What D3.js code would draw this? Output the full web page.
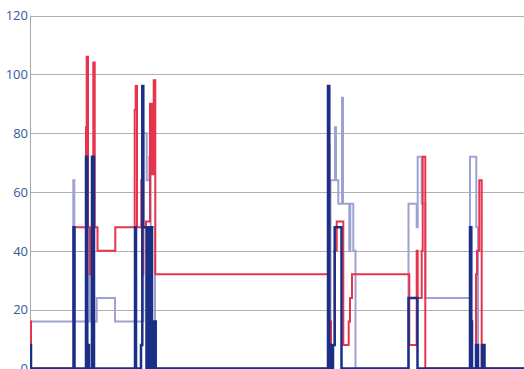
<!DOCTYPE html>
<html>
<head>
<meta charset="utf-8">
<script src="https://cdn.jsdelivr.net/npm/d3@7"></script>
<style>
  html, body { margin: 0; padding: 0; background: #ffffff; }
  svg { display: block; }
</style>
</head>
<body>
<svg id="chart" width="524" height="369"></svg>
<script>
// ---- data (step series: breakpoint times and values) ----
const yTicks = [0, 20, 40, 60, 80, 100, 120];

const lavenderT = [0, 43.3, 44.3, 59.7, 60.7, 66.7, 85, 113.3, 116.7, 119.3, 120.7, 125, 126,
  300.5, 305, 306, 308.3, 312, 313, 319.3, 320.3, 323.3, 325.5,
  378.5, 386.7, 387.7, 391.7, 395.3, 440, 446.3, 448, 494];
const lavenderV = [16, 64, 16, 32, 16, 24, 16, 80, 64, 72, 48, 16, 0,
  64, 82, 64, 56, 92, 56, 40, 56, 40, 0,
  56, 48, 72, 56, 24, 72, 48, 0, 0];

const redT = [0, 1, 44, 56, 56.7, 58, 59.7, 60.7, 63.3, 64.7, 67.5, 85.3, 104.7, 105.7, 107,
  111.3, 112.3, 113.3, 116, 120, 121.7, 123.7, 125.3,
  298, 299.3, 301, 304.7, 306.7, 313.3, 318.7, 320, 322,
  379.3, 386.7, 387.7, 391.7, 392.7, 395.3, 446, 447, 449.3, 451.7, 494];
const redV = [16, 0, 48, 82, 106, 48, 32, 48, 104, 48, 40, 48, 88, 96, 48,
  64, 32, 48, 50, 90, 66, 98, 32,
  76, 16, 8, 40, 50, 8, 16, 24, 32,
  8, 40, 24, 40, 72, 0, 32, 40, 64, 0, 0];

const navyT = [0, 1, 43.5, 44.5, 56, 57.3, 58, 59, 62, 64, 105, 106, 111, 112.3, 113.3,
  116.5, 117, 119.3, 120, 122, 124.3, 125.7,
  298, 299.3, 299.8, 301, 303, 304.7, 311.5,
  378.5, 387.5, 440, 441.3, 442, 446, 448, 452, 454.5, 494];
const navyV = [8, 0, 48, 0, 72, 0, 8, 0, 72, 0, 48, 0, 8, 96, 48,
  0, 48, 0, 48, 0, 16, 0,
  96, 0, 8, 0, 8, 48, 0,
  24, 0, 48, 16, 0, 8, 0, 8, 0, 0];

const seriesList = [
  { t: lavenderT, v: lavenderV, color: "#9ea2d2", width: 2 },
  { t: redT, v: redV, color: "#e8334c", width: 2 },
  { t: navyT, v: navyV, color: "#1c2f86", width: 2.5 }
];

// ---- layout ----
const W = 524, H = 369;
const mLeft = 30, mRight = 524, mTop = 15.5, mBottom = 368.5;

const svg = d3.select("#chart");
const x = d3.scaleLinear().domain([0, 494]).range([mLeft, mRight]);
const y = d3.scaleLinear().domain([0, 120]).range([mBottom, mTop]);

// gridlines
svg.append("g")
  .selectAll("line")
  .data(yTicks.filter(d => d > 0))
  .join("line")
  .attr("x1", mLeft)
  .attr("x2", mRight)
  .attr("y1", d => Math.round(y(d)) + 0.5)
  .attr("y2", d => Math.round(y(d)) + 0.5)
  .attr("stroke", "#b0b0b0")
  .attr("stroke-width", 1);

// y axis line
svg.append("line")
  .attr("x1", mLeft + 0.5).attr("x2", mLeft + 0.5)
  .attr("y1", mTop).attr("y2", H)
  .attr("stroke", "#a8a8a8").attr("stroke-width", 1);

// tick labels
svg.append("g")
  .selectAll("text")
  .data(yTicks)
  .join("text")
  .attr("x", mLeft - 2)
  .attr("y", d => y(d))
  .attr("dy", "0.36em")
  .attr("text-anchor", "end")
  .attr("font-family", "'Open Sans', 'Noto Sans', sans-serif")
  .attr("font-size", 13)
  .attr("fill", "#2d5c9c")
  .text(d => d);

// clip to chart area
svg.append("clipPath").attr("id", "clip")
  .append("rect").attr("x", mLeft).attr("y", 0).attr("width", mRight - mLeft).attr("height", H);

const line = d3.line()
  .x(d => x(d[0]))
  .y(d => y(d[1]))
  .curve(d3.curveStepAfter);

const g = svg.append("g").attr("clip-path", "url(#clip)");
seriesList.forEach(s => {
  const pts = s.t.map((t, i) => [t, s.v[i]]);
  g.append("path")
    .datum(pts)
    .attr("d", line)
    .attr("fill", "none")
    .attr("stroke", s.color)
    .attr("stroke-width", s.width)
    .attr("stroke-linejoin", "miter");
});
</script>
</body>
</html>
